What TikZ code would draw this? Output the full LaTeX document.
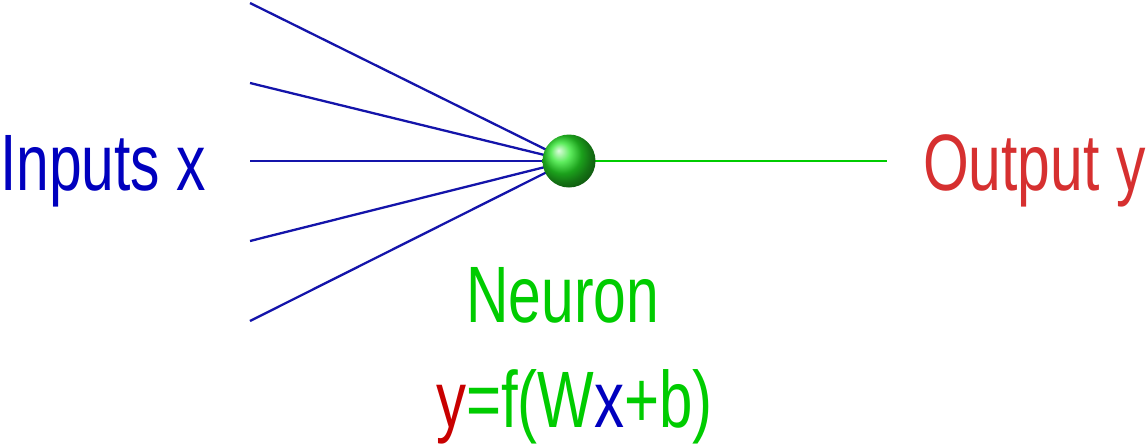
\documentclass[tikz,border=0pt]{standalone}
\usepackage{fontspec}
\setmainfont{Liberation Sans}
\usepackage{graphicx}
\definecolor{inblue}{RGB}{0,0,190}
\definecolor{lineblue}{RGB}{20,20,170}
\definecolor{ngreen}{RGB}{0,204,0}
\definecolor{ballgreen}{RGB}{40,230,40}
\definecolor{outred}{RGB}{214,48,48}
\definecolor{eqred}{RGB}{200,0,0}
\begin{document}
\begin{tikzpicture}[x=1pt,y=-1pt,
  lbl/.style={inner sep=0pt,anchor=base west,font=\fontsize{80}{80}\selectfont},
  inline/.style={draw=lineblue,line width=2.3pt},
  outline/.style={draw=ngreen,line width=2pt}]
\useasboundingbox (0,0) rectangle (1148,445);
\coordinate (i1) at (250,3);
\coordinate (i2) at (250,83);
\coordinate (i3) at (250,161);
\coordinate (i4) at (250,241);
\coordinate (i5) at (250,321);
\coordinate (o) at (887,161);
\coordinate (nc) at (569,161);
\foreach \i in {1,...,5} \draw[inline] (i\i) -- (nc);
\draw[outline] (nc) -- (o);
\node[circle,minimum size=53pt,inner sep=0pt,shading=ball,ball color=ballgreen] (neuron) at (nc) {};
\node[lbl,text=inblue] (inputs) at (0,190) {\scalebox{0.735}[1]{Inputs x}};
\node[lbl,text=outred] (output) at (923,190) {\scalebox{0.735}[1]{Output y}};
\node[lbl,text=ngreen] (nlabel) at (466,322) {\scalebox{0.735}[1]{Neuron}};
\node[lbl,text=ngreen] (eq) at (436,427) {\scalebox{0.75}[1]{\textcolor{eqred}{y}=f(W\textcolor{inblue}{x}+b)}};
\end{tikzpicture}
\end{document}
